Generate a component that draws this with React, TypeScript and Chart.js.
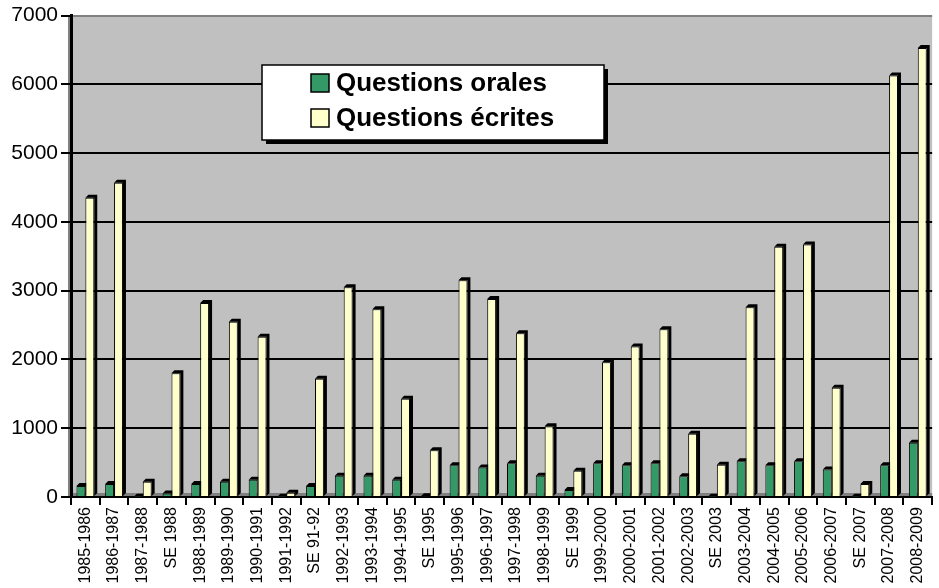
import React, { useEffect, useRef } from "react";
import { Chart, registerables } from "chart.js";

Chart.register(...registerables);

const categories = [
  "1985-1986", "1986-1987", "1987-1988", "SE 1988", "1988-1989", "1989-1990",
  "1990-1991", "1991-1992", "SE 91-92", "1992-1993", "1993-1994", "1994-1995",
  "SE 1995", "1995-1996", "1996-1997", "1997-1998", "1998-1999", "SE 1999",
  "1999-2000", "2000-2001", "2001-2002", "2002-2003", "SE 2003", "2003-2004",
  "2004-2005", "2005-2006", "2006-2007", "SE 2007", "2007-2008", "2008-2009",
];

const questionsOrales = [
  160, 190, 5, 50, 190, 220, 250, 5, 160, 310, 310, 250, 10, 460, 430, 490,
  310, 100, 490, 460, 490, 300, 5, 520, 460, 520, 400, 5, 460, 790,
];

const questionsEcrites = [
  4350, 4570, 220, 1800, 2820, 2550, 2330, 60, 1720, 3050, 2730, 1430, 680,
  3150, 2880, 2380, 1030, 380, 1960, 2190, 2440, 920, 470, 2760, 3640, 3670,
  1590, 190, 6130, 6530,
];

const seriesLabels = ["Questions orales", "Questions écrites"];
const seriesColors = ["#339966", "#FFFFCC"];

const FONT = "'Liberation Sans', Arial, sans-serif";

const bgPlugin = {
  id: "plotBg",
  beforeDraw(chart: any) {
    const { ctx, chartArea } = chart;
    ctx.save();
    ctx.fillStyle = "#C0C0C0";
    ctx.fillRect(chartArea.left, chartArea.top, chartArea.right - chartArea.left, chartArea.bottom - chartArea.top);
    ctx.fillStyle = "#808080";
    ctx.fillRect(chartArea.left - 3, chartArea.top, 3, chartArea.bottom - chartArea.top);
    ctx.fillRect(chartArea.left, chartArea.bottom - 4, chartArea.right - chartArea.left, 4);
    ctx.restore();
  },
};

const depthPlugin = {
  id: "depth3d",
  beforeDatasetsDraw(chart: any) {
    const { ctx } = chart;
    const d = 3;
    ctx.save();
    ctx.fillStyle = "#000";
    chart.data.datasets.forEach((_: any, i: number) => {
      const meta = chart.getDatasetMeta(i);
      meta.data.forEach((bar: any) => {
        const left = bar.x - bar.width / 2;
        const right = bar.x + bar.width / 2;
        const top = bar.y;
        const base = bar.base;
        ctx.beginPath();
        ctx.moveTo(right, base);
        ctx.lineTo(right + d, base - d);
        ctx.lineTo(right + d, top - d);
        ctx.lineTo(left + d, top - d);
        ctx.lineTo(left, top);
        ctx.lineTo(right, top);
        ctx.closePath();
        ctx.fill();
      });
    });
    ctx.restore();
  },
};

const legendPlugin = {
  id: "boxLegend",
  afterDraw(chart: any) {
    const { ctx } = chart;
    const x = 262, y = 65, w = 342, h = 75;
    ctx.save();
    ctx.fillStyle = "#000";
    ctx.fillRect(x + 4, y + 4, w, h);
    ctx.fillStyle = "#fff";
    ctx.fillRect(x, y, w, h);
    ctx.strokeStyle = "#000";
    ctx.lineWidth = 1.5;
    ctx.strokeRect(x, y, w, h);
    ctx.font = `bold 26px ${FONT}`;
    ctx.textBaseline = "middle";
    ctx.textAlign = "left";
    const rows = [83, 118];
    seriesLabels.forEach((label, i) => {
      const cy = rows[i];
      ctx.fillStyle = seriesColors[i];
      ctx.fillRect(311, cy - 9, 18, 18);
      ctx.strokeStyle = "#000";
      ctx.lineWidth = 1.5;
      ctx.strokeRect(311, cy - 9, 18, 18);
      ctx.fillStyle = "#000";
      ctx.fillText(label, 336, cy + 1);
    });
    ctx.restore();
  },
};

export default function App() {
  const canvasRef = useRef<HTMLCanvasElement | null>(null);

  useEffect(() => {
    document.body.style.margin = "0";
    const canvas = canvasRef.current;
    if (!canvas) return;
    const chart = new Chart(canvas, {
      type: "bar",
      data: {
        labels: categories,
        datasets: [
          {
            label: seriesLabels[0],
            data: questionsOrales,
            backgroundColor: seriesColors[0],
            borderColor: "#000",
            borderWidth: 1,
            categoryPercentage: 0.62,
            barPercentage: 1.0,
          },
          {
            label: seriesLabels[1],
            data: questionsEcrites,
            backgroundColor: seriesColors[1],
            borderColor: "#000",
            borderWidth: 1,
            categoryPercentage: 0.62,
            barPercentage: 1.0,
          },
        ],
      },
      options: {
        animation: false,
        responsive: false,
        maintainAspectRatio: false,
        layout: { padding: { top: 15, right: 1, left: 0, bottom: 0 } },
        plugins: {
          legend: { display: false },
          tooltip: { enabled: false },
        },
        scales: {
          x: {
            offset: true,
            afterFit(scale: any) {
              scale.height = 91;
            },
            grid: {
              offset: true,
              drawOnChartArea: false,
              drawTicks: true,
              tickLength: 8,
              color: "#000",
              lineWidth: 2,
            },
            border: { color: "#000", width: 2 },
            ticks: {
              autoSkip: false,
              maxRotation: 90,
              minRotation: 90,
              padding: 2,
              color: "#000",
              font: { family: FONT, size: 16 },
            },
          },
          y: {
            min: 0,
            max: 7000,
            afterFit(scale: any) {
              scale.width = 71;
            },
            grid: {
              color: (c: any) => (c.tick && c.tick.value === 7000 ? "#808080" : "#000"),
              lineWidth: 2,
              tickLength: 10,
              tickColor: "#000",
            },
            border: { color: "#000", width: 3 },
            ticks: {
              stepSize: 1000,
              padding: 3,
              color: "#000",
              font: { family: FONT, size: 21 },
              callback: (v: any) => String(v),
            },
          },
        },
      },
      plugins: [bgPlugin, depthPlugin, legendPlugin],
    });
    return () => chart.destroy();
  }, []);

  return (
    <div style={{ width: 939, height: 588, background: "#fff" }}>
      <canvas ref={canvasRef} width={939} height={588} style={{ width: 939, height: 588, display: "block" }} />
    </div>
  );
}
